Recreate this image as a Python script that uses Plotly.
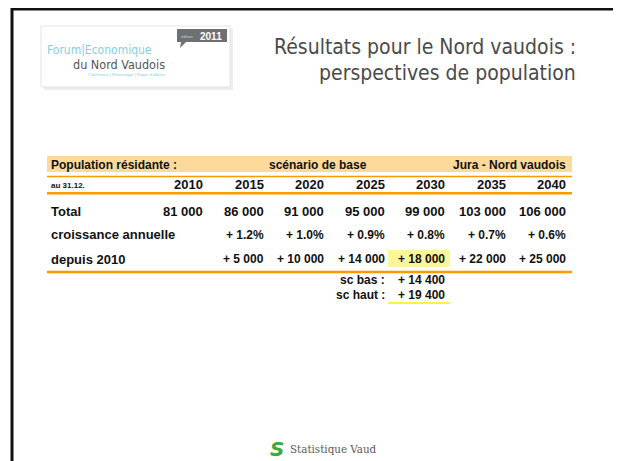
import plotly.graph_objects as go

# ---------------- data ----------------
years = [2010, 2015, 2020, 2025, 2030, 2035, 2040]
year_labels = ["2010", "2015", "2020", "2025", "2030", "2035", "2040"]
total = ["81 000", "86 000", "91 000", "95 000", "99 000", "103 000", "106 000"]
growth = ["", "+ 1.2%", "+ 1.0%", "+ 0.9%", "+ 0.8%", "+ 0.7%", "+ 0.6%"]
since_2010 = ["", "+ 5 000", "+ 10 000", "+ 14 000", "+ 18 000", "+ 22 000", "+ 25 000"]
row_labels = ["Total", "croissance annuelle", "depuis 2010"]
sc_labels = ["sc bas :", "sc haut :"]
sc_values = ["+ 14 400", "+ 19 400"]
highlight_year = 2030

title_lines = ["Résultats pour le Nord vaudois :", "perspectives de population"]
header_left = "Population résidante :"
header_mid = "scénario de base"
header_right = "Jura - Nord vaudois"
date_label = "au 31.12."

# ---------------- geometry ----------------
W, H = 621, 461
OFF = 8  # page body margin offset
X_2010, STEP = 205.0, 12.1  # right edge of 2010 column, px per year

def col_px(y):
    return X_2010 + (y - 2010) * STEP

ORANGE = "#FF9900"
BAND = "#FDD99B"
HILITE = "#FCF69A"
TXT = "#111111"
BF = "Liberation Sans, Arial, sans-serif"

fig = go.Figure()
fig.add_trace(go.Scatter(x=[OFF + 1], y=[OFF + 1], mode="markers", marker=dict(opacity=0), hoverinfo="skip", showlegend=False))

shapes = []
ann = []

# slide frame
shapes.append(dict(type="path", path="M 12 475 L 12 9 L 619 9 L 619 475", xref="x", yref="y",
                   line=dict(color="#111111", width=3)))

# logo box
shapes.append(dict(type="rect", x0=44, y0=29, x1=233, y1=90, xref="x", yref="y",
                   line=dict(width=0), fillcolor="#ededed", layer="below"))
shapes.append(dict(type="rect", x0=41, y0=26, x1=230, y1=87, xref="x", yref="y",
                   line=dict(color="#e4e4e4", width=1), fillcolor="#ffffff"))
# badge 2011
shapes.append(dict(type="path", path="M 177 29 L 227 29 L 227 42 L 186 42 L 180 48 L 181 42 L 177 42 Z",
                   xref="x", yref="y", line=dict(width=0), fillcolor="#6e7173"))
ann.append(dict(x=224, y=36, xref="x", yref="y", text="<b>2011</b>", showarrow=False, xanchor="right",
                yanchor="middle", font=dict(family=BF, size=10, color="#ffffff")))
ann.append(dict(x=195, y=36.5, xref="x", yref="y", text="édition", showarrow=False, xanchor="right",
                yanchor="middle", font=dict(family=BF, size=4, color="#d0d0d0")))
LF = "DejaVu Sans Condensed, sans-serif"
ann.append(dict(x=45, y=50, xref="x", yref="y", text="Forum|Economique", showarrow=False, xanchor="left",
                yanchor="middle", font=dict(family=LF, size=12, color="#86CFDA")))
ann.append(dict(x=167, y=64.5, xref="x", yref="y", text="du Nord Vaudois", showarrow=False, xanchor="right",
                yanchor="middle", font=dict(family=LF, size=12.5, color="#555555")))
ann.append(dict(x=167, y=74, xref="x", yref="y", text="Conférence | Réseautage | Repas d'affaires", showarrow=False,
                xanchor="right", yanchor="middle", font=dict(family=BF, size=4, color="#86CFDA")))

# title
TF = "DejaVu Sans Condensed, sans-serif"
ann.append(dict(x=578, y=47, xref="x", yref="y", text=title_lines[0], showarrow=False, xanchor="right",
                yanchor="middle", font=dict(family=TF, size=21, color="#4a4a4a")))
ann.append(dict(x=578, y=73, xref="x", yref="y", text=title_lines[1], showarrow=False, xanchor="right",
                yanchor="middle", font=dict(family=TF, size=21, color="#4a4a4a")))

# table header band & lines
L, R = 47, 572
shapes.append(dict(type="rect", x0=L, y0=156, x1=R, y1=172, xref="x", yref="y", line=dict(width=0), fillcolor=BAND))
shapes.append(dict(type="line", x0=L, y0=176.5, x1=R, y1=176.5, xref="x", yref="y", line=dict(color=ORANGE, width=1.5)))
shapes.append(dict(type="line", x0=L, y0=193.3, x1=R, y1=193.3, xref="x", yref="y", line=dict(color=ORANGE, width=2.5)))
shapes.append(dict(type="line", x0=L, y0=272, x1=R, y1=272, xref="x", yref="y", line=dict(color=ORANGE, width=2.5)))

# highlight cell + underline
hx = col_px(highlight_year)
shapes.append(dict(type="rect", x0=hx - 59, y0=250, x1=hx + 3, y1=267, xref="x", yref="y",
                   line=dict(width=0), fillcolor=HILITE, layer="below"))
shapes.append(dict(type="line", x0=hx - 59, y0=303, x1=hx + 3, y1=303, xref="x", yref="y",
                   line=dict(color="#FFEE00", width=1.5)))

def txt(x, y, s, size, anchor="right", xref="x2", bold=True, color=TXT):
    ann.append(dict(x=x, y=y, xref=xref, yref="y", text=(f"<b>{s}</b>" if bold else s), showarrow=False,
                    xanchor=anchor, yanchor="middle", font=dict(family=BF, size=size, color=color)))

txt(49, 164.5, header_left, 12, anchor="left", xref="x")
txt(318, 164.5, header_mid, 12, anchor="center", xref="x")
txt(years[-1], 164.5, header_right, 12)
txt(49, 185.5, date_label, 8, anchor="left", xref="x")

row_y = [211, 234.5, 259]
for lab, yy in zip(row_labels, row_y):
    txt(49, yy, lab, 13, anchor="left", xref="x")

for i, yr in enumerate(years):
    txt(yr, 184.5, year_labels[i], 13)
    txt(yr, row_y[0], total[i], 13)
    if growth[i]:
        txt(yr, row_y[1], growth[i], 12)
    if since_2010[i]:
        txt(yr, row_y[2], since_2010[i], 12)

sc_y = [279.5, 294.5]
for lab, val, yy in zip(sc_labels, sc_values, sc_y):
    txt(2025, yy, lab, 12)
    txt(highlight_year, yy, val, 12)

# footer logo
ann.append(dict(x=277, y=449, xref="x", yref="y", text="<b><i>S</i></b>", showarrow=False, xanchor="center",
                yanchor="middle", font=dict(family="DejaVu Sans, sans-serif", size=20, color="#3DAA3A")))
ann.append(dict(x=288, y=449, xref="x", yref="y", text="Statistique Vaud", showarrow=False, xanchor="left",
                yanchor="middle", font=dict(family="DejaVu Serif Condensed, Liberation Serif, serif", size=11.5, color="#5a5a5a")))

fig.update_layout(
    width=W, height=H, margin=dict(l=0, r=0, t=0, b=0),
    paper_bgcolor="white", plot_bgcolor="white", showlegend=False,
    xaxis=dict(range=[OFF, W + OFF], visible=False, fixedrange=True),
    xaxis2=dict(range=[2010 - (X_2010 - OFF) / STEP, 2010 + (W + OFF - X_2010) / STEP],
                overlaying="x", visible=False, fixedrange=True),
    yaxis=dict(range=[H + OFF, OFF], visible=False, fixedrange=True),
    shapes=shapes, annotations=ann,
)
fig.write_html("out.html")
